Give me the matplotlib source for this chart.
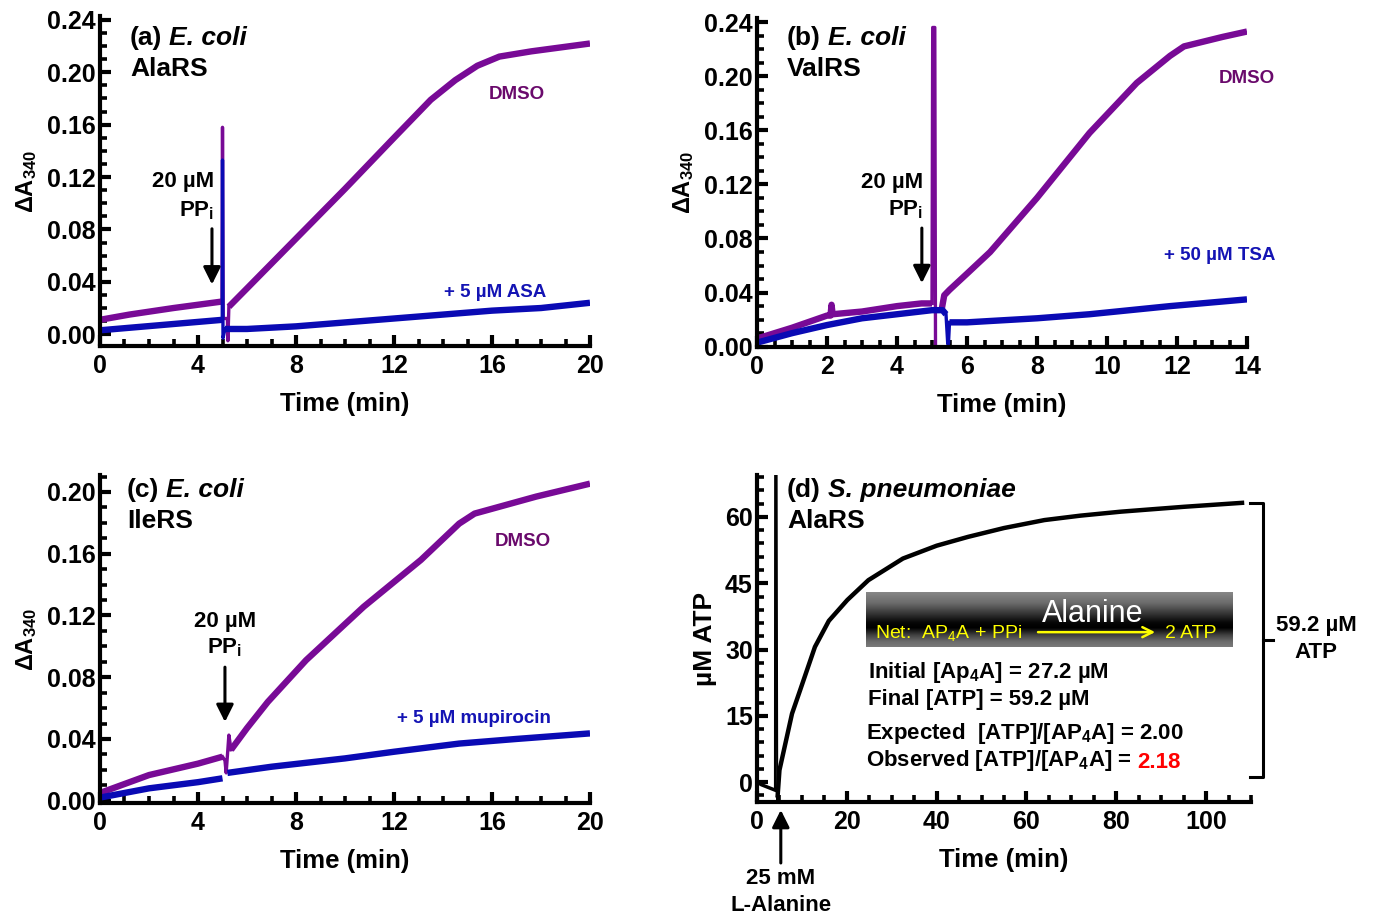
import numpy as np
import matplotlib
matplotlib.use("Agg")
import matplotlib.pyplot as plt
from matplotlib.ticker import MultipleLocator, FormatStrFormatter

plt.rcParams['font.family'] = ['Liberation Sans', 'DejaVu Sans']
plt.rcParams['font.weight'] = 'bold'
plt.rcParams['axes.labelweight'] = 'bold'
plt.rcParams['mathtext.default'] = 'regular'

PURPLE = '#780a96'
BLUE = '#0a0ab4'
PURPLE_TXT = '#6a0a6c'
BLUE_TXT = '#1414b4'

# ---------------- (a) E. coli AlaRS ----------------
a_dmso_pre_t = [0, 1.2, 3, 5.0]
a_dmso_pre_v = [0.011, 0.015, 0.020, 0.025]
a_dmso_spk_t = [4.98, 5.0, 5.03, 5.2, 5.22, 5.26]
a_dmso_spk_v = [0.025, 0.158, 0.012, 0.012, -0.005, 0.021]
a_dmso_post_t = [5.26, 6, 8, 10, 12, 13.5, 14.5, 15.4, 16.3, 17.6, 20]
a_dmso_post_v = [0.021, 0.035, 0.073, 0.111, 0.150, 0.179, 0.194, 0.205, 0.212, 0.216, 0.222]
a_asa_pre_t = [0, 2.5, 5.0]
a_asa_pre_v = [0.003, 0.007, 0.011]
a_asa_spk_t = [4.99, 5.0, 5.02, 5.1]
a_asa_spk_v = [0.011, 0.133, -0.003, 0.004]
a_asa_post_t = [5.1, 6, 8, 10, 12, 14, 16, 18, 20]
a_asa_post_v = [0.004, 0.004, 0.006, 0.009, 0.012, 0.015, 0.018, 0.020, 0.024]

# ---------------- (b) E. coli ValRS ----------------
b_dmso_pre_t = [0, 1, 2, 2.1, 2.13, 2.16, 3, 4, 4.7, 5.0]
b_dmso_pre_v = [0.006, 0.014, 0.023, 0.023, 0.031, 0.024, 0.026, 0.030, 0.032, 0.032]
b_dmso_spk_t = [5.0, 5.02, 5.08, 5.1]
b_dmso_spk_v = [0.032, 0.236, 0.236, 0.0]
b_dmso_post_t = [5.28, 5.35, 5.5, 6.0, 6.66, 8, 9.5, 10.85, 11.8, 12.2, 13.3, 14]
b_dmso_post_v = [0.028, 0.038, 0.042, 0.054, 0.070, 0.110, 0.158, 0.195, 0.215, 0.222, 0.229, 0.233]
b_tsa_pre_t = [0, 1, 2, 3, 4, 5.0, 5.3, 5.4]
b_tsa_pre_v = [0.003, 0.010, 0.016, 0.021, 0.024, 0.027, 0.027, 0.024]
b_tsa_spk_t = [5.4, 5.45, 5.47, 5.5]
b_tsa_spk_v = [0.024, 0.002, 0.002, 0.018]
b_tsa_post_t = [5.5, 6, 6.66, 8, 9.5, 11.8, 14]
b_tsa_post_v = [0.018, 0.018, 0.019, 0.021, 0.024, 0.030, 0.035]

# ---------------- (c) E. coli IleRS ----------------
c_dmso_pre_t = [0, 2, 4, 5.0]
c_dmso_pre_v = [0.005, 0.0166, 0.024, 0.0285]
c_dmso_spk_t = [5.0, 5.1, 5.15, 5.26, 5.35]
c_dmso_spk_v = [0.0285, 0.026, 0.018, 0.0425, 0.033]
c_dmso_post_t = [5.35, 6, 6.85, 8.41, 10.76, 13.1, 14.66, 15.29, 17.8, 20]
c_dmso_post_v = [0.033, 0.047, 0.064, 0.091, 0.1256, 0.156, 0.1795, 0.186, 0.197, 0.2054]
c_mup_pre_t = [0, 2, 4, 5.0]
c_mup_pre_v = [0.002, 0.008, 0.012, 0.0145]
c_mup_post_t = [5.2, 7, 10, 12, 14.66, 17, 20]
c_mup_post_v = [0.018, 0.022, 0.0274, 0.0317, 0.037, 0.040, 0.0436]

# ---------------- (d) S. pneumoniae AlaRS ----------------
d_pre_t = [0, 1, 2, 3, 4.0]
d_pre_v = [0.0, -0.6, -1.0, -1.4, -1.8]
d_spk_t = [4.0, 4.05, 4.35, 4.5, 4.6]
d_spk_v = [-1.8, 75, 75, -4.0, -3.0]
d_atp_t = [4.6, 5.0, 7.8, 9.6, 12.9, 16, 20.1, 24.8, 32.5, 40, 47, 55, 64, 72, 81, 95, 108]
d_atp_v = [-3.0, 2.7, 15.5, 20.8, 30.6, 36.5, 41.2, 45.7, 50.6, 53.5, 55.5, 57.5, 59.3, 60.3, 61.2, 62.3, 63.2]

LW = 4.6
SPK_LW = 2.4

fig = plt.figure(figsize=(13.74, 9.22), dpi=100)


def frame(ax, xlim, ylim, xmaj, xmin, ymaj, ymin, yfmt=None):
    ax.set_xlim(*xlim)
    ax.set_ylim(*ylim)
    for s in ('top', 'right'):
        ax.spines[s].set_visible(False)
    for s in ('left', 'bottom'):
        ax.spines[s].set_linewidth(3.0)
    ax.xaxis.set_major_locator(MultipleLocator(xmaj))
    ax.xaxis.set_minor_locator(MultipleLocator(xmin))
    ax.yaxis.set_major_locator(MultipleLocator(ymaj))
    ax.yaxis.set_minor_locator(MultipleLocator(ymin))
    ax.tick_params(which='major', direction='in', length=8, width=3, labelsize=18)
    ax.tick_params(which='minor', direction='in', length=5, width=2.6)
    ax.tick_params(axis='y', which='major', pad=3)
    ax.tick_params(axis='x', which='major', pad=6)
    if yfmt:
        ax.yaxis.set_major_formatter(yfmt)


def title(ax, x, y1, y2, tag, org, enz):
    t = ax.text(x, y1, tag, fontsize=19, va='center', ha='left')
    ax.annotate(org, xy=(1, 0), xycoords=t, xytext=(5, 0), textcoords='offset points',
                fontsize=19, style='italic', va='bottom', ha='left')
    ax.text(x, y2, enz, fontsize=19, va='center', ha='left')


def ppi_label(ax, x, y1, y2, ha, xa, ya0, ya1):
    ax.text(x, y1, '20 µM', fontsize=16, ha=ha, va='center')
    ax.text(x, y2, 'PP$_i$', fontsize=16, ha=ha, va='center')
    ax.annotate('', xy=(xa, ya1), xytext=(xa, ya0),
                arrowprops=dict(arrowstyle='-|>', color='k', lw=2.2, mutation_scale=26,
                                shrinkA=0, shrinkB=0))


yfmt2 = FormatStrFormatter('%.2f')

# ---- panel (a)
ax = fig.add_axes([100 / 1374, 1 - 346 / 922, 490 / 1374, 330 / 922])
frame(ax, (0, 20), (-0.009, 0.243), 4, 1, 0.04, 0.01, yfmt=yfmt2)
ax.plot(a_dmso_pre_t, a_dmso_pre_v, color=PURPLE, lw=LW, solid_capstyle='butt')
ax.plot(a_dmso_spk_t, a_dmso_spk_v, color=PURPLE, lw=SPK_LW)
ax.plot(a_dmso_post_t, a_dmso_post_v, color=PURPLE, lw=LW, solid_capstyle='butt')
ax.plot(a_asa_pre_t, a_asa_pre_v, color=BLUE, lw=LW, solid_capstyle='butt')
ax.plot(a_asa_spk_t, a_asa_spk_v, color=BLUE, lw=SPK_LW)
ax.plot(a_asa_post_t, a_asa_post_v, color=BLUE, lw=LW, solid_capstyle='butt')
title(ax, 1.22, 0.2262, 0.2025, '(a)', 'E. coli', 'AlaRS')
ppi_label(ax, 4.65, 0.1166, 0.094, 'right', 4.57, 0.0805, 0.038)
ax.text(17.02, 0.1833, 'DMSO', color=PURPLE_TXT, fontsize=13.5, ha='center', va='center')
ax.text(18.2, 0.0322, '+ 5 µM ASA', color=BLUE_TXT, fontsize=13.5, ha='right', va='center')
ax.set_xlabel('Time (min)', fontsize=18.5, labelpad=10)
ax.set_ylabel('ΔA$_{340}$', fontsize=17, labelpad=6)

# ---- panel (b)
ax = fig.add_axes([757 / 1374, 1 - 346.7 / 922, 490 / 1374, 328.7 / 922])
frame(ax, (0, 14), (0, 0.243), 2, 0.5, 0.04, 0.01, yfmt=yfmt2)
ax.plot(b_dmso_pre_t, b_dmso_pre_v, color=PURPLE, lw=LW, solid_capstyle='butt')
ax.plot(b_dmso_spk_t, b_dmso_spk_v, color=PURPLE, lw=SPK_LW)
ax.plot(b_dmso_post_t, b_dmso_post_v, color=PURPLE, lw=LW, solid_capstyle='butt')
ax.plot(b_tsa_pre_t, b_tsa_pre_v, color=BLUE, lw=LW, solid_capstyle='butt')
ax.plot(b_tsa_spk_t, b_tsa_spk_v, color=BLUE, lw=SPK_LW)
ax.plot(b_tsa_post_t, b_tsa_post_v, color=BLUE, lw=LW, solid_capstyle='butt')
title(ax, 0.857, 0.228, 0.205, '(b)', 'E. coli', 'ValRS')
ppi_label(ax, 4.74, 0.1216, 0.1016, 'right', 4.71, 0.0877, 0.047)
ax.text(14.8, 0.1984, 'DMSO', color=PURPLE_TXT, fontsize=13.5, ha='right', va='center',
        clip_on=False)
ax.text(14.8, 0.0677, '+ 50 µM TSA', color=BLUE_TXT, fontsize=13.5, ha='right', va='center',
        clip_on=False)
ax.set_xlabel('Time (min)', fontsize=18.5, labelpad=10)
ax.set_ylabel('ΔA$_{340}$', fontsize=17, labelpad=6)

# ---- panel (c)
ax = fig.add_axes([100 / 1374, 1 - 803 / 922, 490 / 1374, 328 / 922])
frame(ax, (0, 20), (-0.0015, 0.211), 4, 1, 0.04, 0.01, yfmt=yfmt2)
ax.plot(c_dmso_pre_t, c_dmso_pre_v, color=PURPLE, lw=LW, solid_capstyle='butt')
ax.plot(c_dmso_spk_t, c_dmso_spk_v, color=PURPLE, lw=SPK_LW)
ax.plot(c_dmso_post_t, c_dmso_post_v, color=PURPLE, lw=LW, solid_capstyle='butt')
ax.plot(c_mup_pre_t, c_mup_pre_v, color=BLUE, lw=LW, solid_capstyle='butt')
ax.plot(c_mup_post_t, c_mup_post_v, color=BLUE, lw=LW, solid_capstyle='butt')
title(ax, 1.1, 0.2011, 0.181, '(c)', 'E. coli', 'IleRS')
ppi_label(ax, 5.1, 0.1163, 0.0988, 'center', 5.1, 0.0865, 0.051)
ax.text(17.27, 0.168, 'DMSO', color=PURPLE_TXT, fontsize=13.5, ha='center', va='center')
ax.text(18.4, 0.0535, '+ 5 µM mupirocin', color=BLUE_TXT, fontsize=13.5, ha='right',
        va='center')
ax.set_xlabel('Time (min)', fontsize=18.5, labelpad=10)
ax.set_ylabel('ΔA$_{340}$', fontsize=17, labelpad=6)

# ---- panel (d)
ax = fig.add_axes([757 / 1374, 1 - 802 / 922, 494 / 1374, 327 / 922])
frame(ax, (0, 110), (-4.5, 69.5), 20, 5, 15, 3)
ax.plot(d_pre_t, d_pre_v, color='k', lw=2.5)
ax.plot(d_spk_t, d_spk_v, color='k', lw=1.5)
ax.plot(d_atp_t, d_atp_v, color='k', lw=3.2)
title(ax, 6.7, 66.1, 59.0, '(d)', 'S. pneumoniae', 'AlaRS')
ax.text(24.7, 24.9, 'Initial [Ap$_4$A] = 27.2 µM', fontsize=16, ha='left', va='center')
ax.text(24.7, 18.8, 'Final [ATP] = 59.2 µM', fontsize=16, ha='left', va='center')
ax.text(24.3, 11.1, 'Expected  [ATP]/[AP$_4$A] = 2.00', fontsize=16, ha='left', va='center')
obs = ax.text(24.3, 5.0, 'Observed [ATP]/[AP$_4$A] = ', fontsize=16, ha='left', va='center')
ax.annotate('2.18', xy=(1, 0), xycoords=obs, xytext=(3, 0), textcoords='offset points',
            fontsize=16, color='#ff0000', ha='left', va='bottom')
# bracket spanning the ATP produced
brk_x, brk_l, brk_r = 112.7, 109.8, 114.9
brk_lo, brk_hi, brk_mid = 1.1, 63.1, 32.1
ax.plot([brk_l, brk_x, brk_x, brk_l], [brk_hi, brk_hi, brk_lo, brk_lo], color='k', lw=2.2,
        clip_on=False, solid_joinstyle='round')
ax.plot([brk_x, brk_r], [brk_mid, brk_mid], color='k', lw=2.2, clip_on=False)
ax.text(124.5, 35.5, '59.2 µM', fontsize=16, ha='center', va='center', clip_on=False)
ax.text(124.5, 29.4, 'ATP', fontsize=16, ha='center', va='center', clip_on=False)
ax.annotate('', xy=(5.3, -6.3), xytext=(5.3, -18.3), annotation_clip=False,
            arrowprops=dict(arrowstyle='-|>', color='k', lw=2.2, mutation_scale=26,
                            shrinkA=0, shrinkB=0))
ax.text(5.3, -21.9, '25 mM', fontsize=16, ha='center', va='center', clip_on=False)
ax.text(5.3, -28.0, 'L-Alanine', fontsize=16, ha='center', va='center', clip_on=False)
ax.set_xlabel('Time (min)', fontsize=18.5, labelpad=10)
ax.set_ylabel('µM ATP', fontsize=19, labelpad=6)

# reaction scheme box
bx = fig.add_axes([866 / 1374, 1 - 647 / 922, 366 / 1374, 55 / 922])
stops_pos = [0.0, 0.2, 0.4, 0.55, 0.65, 0.78, 0.9, 1.0]
stops_val = [0.53, 0.42, 0.2, 0.03, 0.0, 0.25, 0.42, 0.48]
grad = np.interp(np.linspace(0, 1, 200), stops_pos, stops_val).reshape(-1, 1)
bx.imshow(grad, cmap='gray', vmin=0, vmax=1, aspect='auto', extent=[0, 1, 0, 1])
bx.set_xlim(0, 1)
bx.set_ylim(0, 1)
bx.axis('off')
bx.text(0.62, 0.46, 'Alanine', color='white', fontsize=22, fontweight='normal',
        ha='center', va='baseline')
bx.text(0.025, 0.16, 'Net:  AP$_4$A + PPi', color='#ffff00', fontsize=14, fontweight='normal',
        ha='left', va='baseline')
bx.text(0.817, 0.16, '2 ATP', color='#ffff00', fontsize=14, fontweight='normal',
        ha='left', va='baseline')
bx.annotate('', xy=(0.79, 0.27), xytext=(0.47, 0.27),
            arrowprops=dict(arrowstyle='->', color='#ffff00', lw=1.8, mutation_scale=18,
                            shrinkA=0, shrinkB=0))

fig.savefig('out.png', dpi=100)
